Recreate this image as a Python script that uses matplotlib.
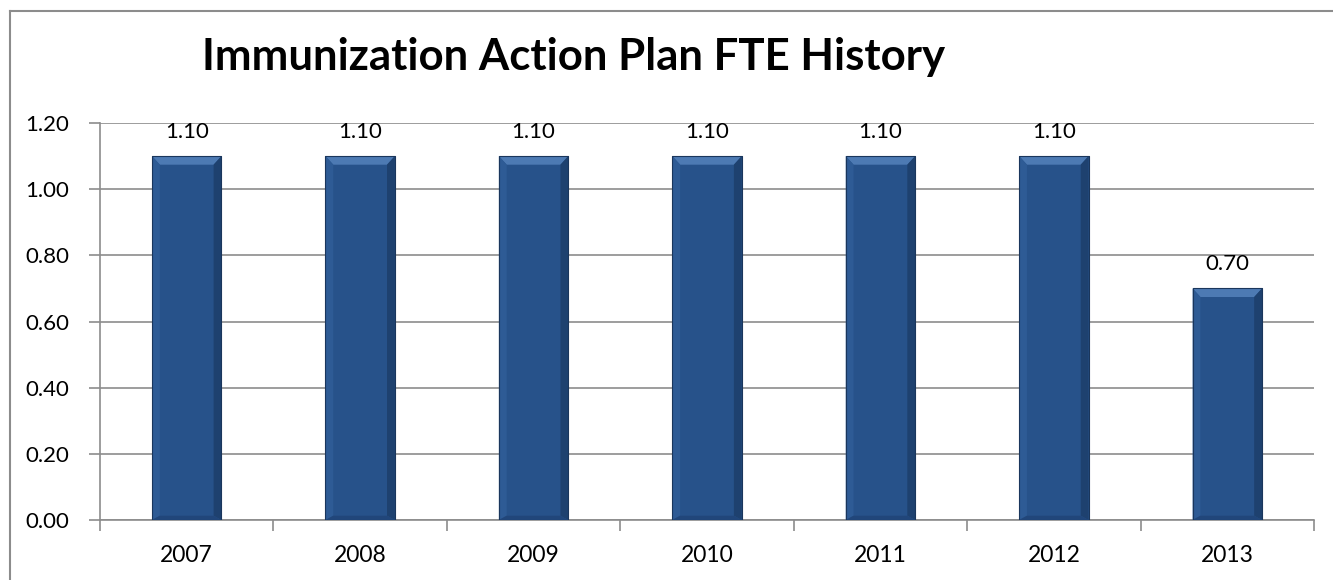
import matplotlib
matplotlib.use("Agg")
import matplotlib.pyplot as plt
from matplotlib.patches import Polygon, Rectangle
from matplotlib.lines import Line2D

plt.rcParams['font.family'] = ['Lato', 'DejaVu Sans']

years = ["2007", "2008", "2009", "2010", "2011", "2012", "2013"]
fte = [1.10, 1.10, 1.10, 1.10, 1.10, 1.10, 0.70]
yticks = [0.0, 0.2, 0.4, 0.6, 0.8, 1.0, 1.2]
title = "Immunization Action Plan FTE History"

W, H = 1333, 580
fig = plt.figure(figsize=(W / 100, H / 100), dpi=100)
fig.patch.set_facecolor("white")

# outer chart border (right/bottom run off the image)
fig.add_artist(Line2D([10 / W, 10 / W], [0, 1 - 11 / H], transform=fig.transFigure,
                      color="#8c8c8c", lw=1.5))
fig.add_artist(Line2D([10 / W, 1], [1 - 11 / H, 1 - 11 / H], transform=fig.transFigure,
                      color="#8c8c8c", lw=1.5))

left, right, bottom, top = 100 / W, 1314 / W, 1 - 520 / H, 1 - 123 / H
ax = fig.add_axes([left, bottom, right - left, top - bottom])

x = list(range(len(years)))
bw = 0.40
main = "#27528a"
bars = ax.bar(x, fte, width=bw, color=main, edgecolor="#1c3a63", linewidth=0.6, zorder=3)

# bevel effect in data coordinates derived from the bars
bev_x = 0.045  # horizontal bevel in data units
bev_y = 0.026  # vertical bevel in data units
for b in bars:
    x0, w, h = b.get_x(), b.get_width(), b.get_height()
    x1 = x0 + w
    ax.add_patch(Polygon([(x0, h), (x1, h), (x1 - bev_x, h - bev_y), (x0 + bev_x, h - bev_y)],
                         closed=True, facecolor="#4d7ab3", edgecolor="none", zorder=4))
    ax.add_patch(Polygon([(x0, h), (x0 + bev_x, h - bev_y), (x0 + bev_x, bev_y * 0.5), (x0, 0)],
                         closed=True, facecolor="#2e5b95", edgecolor="none", zorder=4))
    ax.add_patch(Polygon([(x1, h), (x1 - bev_x, h - bev_y), (x1 - bev_x, bev_y * 0.5), (x1, 0)],
                         closed=True, facecolor="#1e416f", edgecolor="none", zorder=4))
    ax.add_patch(Polygon([(x0, 0), (x1, 0), (x1 - bev_x, bev_y * 0.5), (x0 + bev_x, bev_y * 0.5)],
                         closed=True, facecolor="#21467a", edgecolor="none", zorder=4))
    ax.add_patch(Rectangle((x0, 0), w, h, facecolor="none", edgecolor="#1a365c",
                           linewidth=0.8, zorder=5))
    ax.text(x0 + w / 2, h + 0.055, f"{h:.2f}", ha="center", va="baseline",
            fontsize=16, color="black", zorder=6)

ax.set_xlim(-0.5, len(years) - 0.5)
ax.set_ylim(0, 1.2)
ax.set_yticks(yticks)
ax.set_yticklabels([f"{v:.2f}" for v in yticks], fontsize=16)
ax.yaxis.grid(True, color="#8c8c8c", linewidth=1.2, zorder=0)
ax.set_axisbelow(True)

ax.set_xticks([i + 0.5 for i in range(-1, len(years))])
ax.set_xticklabels([])
ax.set_xticks(x, minor=True)
ax.set_xticklabels(years, minor=True, fontsize=16.5)
ax.tick_params(axis="x", which="minor", length=0, pad=18)
ax.tick_params(axis="x", which="major", length=8, width=1.2, color="#8c8c8c", direction="out")
ax.tick_params(axis="y", length=8, width=1.2, color="#8c8c8c", direction="out", pad=14)

for s in ["top", "right"]:
    ax.spines[s].set_visible(False)
for s in ["left", "bottom"]:
    ax.spines[s].set_color("#8c8c8c")
    ax.spines[s].set_linewidth(1.2)

fig.text(574 / W, 1 - 57 / H, title, ha="center", va="center",
         fontsize=31.5, fontweight="bold", color="black")

fig.savefig("out.png", dpi=100, facecolor="white")
